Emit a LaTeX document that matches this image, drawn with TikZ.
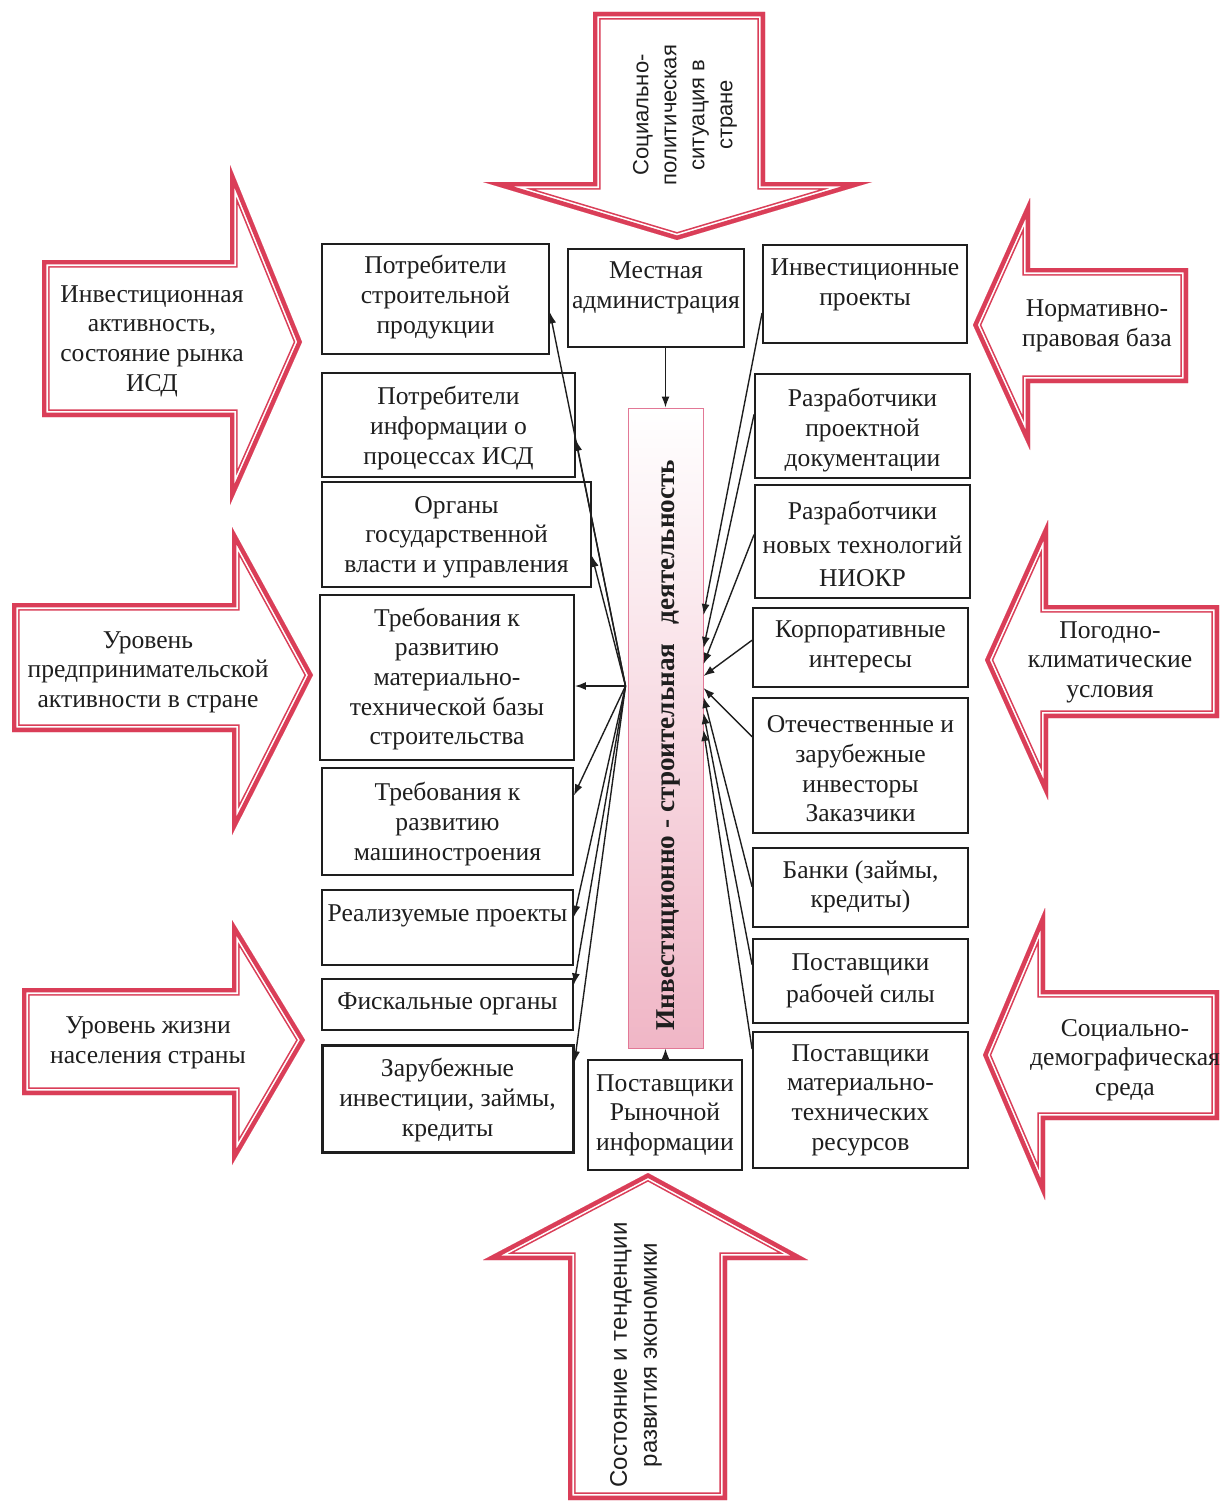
\documentclass[tikz,border=0pt]{standalone}
\usepackage{fontspec}
\setmainfont{Liberation Serif}
\newfontfamily\sansf{Liberation Sans}
\usetikzlibrary{arrows.meta,calc}
\definecolor{arrred}{RGB}{218,62,88}
\definecolor{barpink}{RGB}{240,182,198}
\definecolor{barline}{RGB}{226,120,150}
\definecolor{ink}{RGB}{30,30,30}

\newcommand\redarrow[1]{%
  \begin{scope}
    \clip #1;
    \fill[white] #1;
    \draw[arrred, line width=7.6pt, line join=miter] #1;
    \draw[white, line width=6.0pt, line join=miter] #1;
    \draw[arrred, line width=4.4pt, line join=miter] #1;
  \end{scope}}

\newcommand\mybox[8][]{%
  \node[box,#1, minimum width={(#5-#3)*0.5pt}, minimum height={(#6-#4)*0.5pt}] (#2) at ({(#3+#5)/2},{(#4+#6)/2}) {};
  \node[btxt] (#2-t) at ({(#3+#5)/2},#7) {#8};}

\tikzset{
  box/.style={draw=ink, line width=0.95pt, inner sep=0pt, fill=white},
  btxt/.style={align=center, font=\fontsize{12.8}{14.8}\selectfont, text=ink, inner sep=0pt},
  conn/.style={draw=ink, line width=0.7pt, -{Latex[length=5.5pt,width=4pt]}},
}

\begin{document}
\begin{tikzpicture}[x=0.5pt,y=-0.5pt]
\useasboundingbox (0,0) rectangle (1222,1504);

% ---------- red block arrows ----------
\redarrow{(593,12) -- (765,12) -- (765,182) -- (872,182) -- (677,240) -- (483,182) -- (593,182) -- cycle}
\redarrow{(42,260) -- (230,260) -- (230,165) -- (302,342) -- (230,505) -- (230,417) -- (42,417) -- cycle}
\redarrow{(12,603) -- (232,603) -- (232,527) -- (313,675) -- (232,835) -- (232,732) -- (12,732) -- cycle}
\redarrow{(22,988) -- (232,988) -- (232,920) -- (305,1040) -- (232,1165) -- (232,1095) -- (22,1095) -- cycle}
\redarrow{(1188,268) -- (1030,268) -- (1030,198) -- (973,325) -- (1030,450) -- (1030,383) -- (1188,383) -- cycle}
\redarrow{(1219,605) -- (1048,605) -- (1048,520) -- (985,660) -- (1048,800) -- (1048,718) -- (1219,718) -- cycle}
\redarrow{(1219,990) -- (1045,990) -- (1045,908) -- (983,1055) -- (1045,1200) -- (1045,1120) -- (1219,1120) -- cycle}
\redarrow{(568,1500) -- (568,1260) -- (483,1260) -- (648,1173) -- (808,1260) -- (727,1260) -- (727,1500) -- cycle}

\node[rotate=90, align=center, font=\sansf\fontsize{11}{14}\selectfont, text=ink] (t-top) at (685,115)
  {Социально-\\политическая\\ситуация в\\стране};
\node[rotate=90, align=center, font=\sansf\fontsize{12}{15}\selectfont, text=ink] (t-bot) at (636,1355)
  {Состояние и тенденции\\развития экономики};
\node[btxt] (t-l1) at (152,341) {Инвестиционная\\активность,\\состояние рынка\\ИСД};
\node[btxt] (t-l2) at (148,672) {Уровень\\предпринимательской\\активности в стране};
\node[btxt] (t-l3) at (148,1043) {Уровень жизни\\населения страны};
\node[btxt] (t-r1) at (1097,326) {Нормативно-\\правовая база};
\node[btxt] (t-r2) at (1110,662) {Погодно-\\климатические\\условия};
\node[btxt] (t-r3) at (1125,1060) {Социально-\\демографическая\\среда};

% ---------- left column ----------
\mybox{pcp}{322}{244}{549}{354}{297}{Потребители\\строительной\\продукции}
\mybox{pci}{322}{373}{575}{477}{428}{Потребители\\информации о\\процессах ИСД}
\mybox{org}{322}{482}{591}{587}{537}{Органы\\государственной\\власти и управления}
\mybox{tmb}{320}{595}{574}{760}{679}{Требования к\\развитию\\материально-\\технической базы\\строительства}
\mybox{tms}{322}{768}{573}{875}{824}{Требования к\\развитию\\машиностроения}
\mybox{real}{322}{890}{573}{965}{916}{Реализуемые проекты}
\mybox{fisc}{322}{979}{573}{1030}{1004}{Фискальные органы}
\mybox[line width=1.5pt]{zar}{322}{1045}{573}{1152}{1100}{Зарубежные\\инвестиции, займы,\\кредиты}

% ---------- centre ----------
\mybox{ma}{568}{249}{744}{347}{288}{Местная\\администрация}
\mybox{pri}{588}{1060}{742}{1170}{1115}{Поставщики\\Рыночной\\информации}
\node[draw=barline, line width=0.5pt, top color=white, bottom color=barpink,
      minimum width=37.5pt, minimum height=320pt, inner sep=0pt] (bar) at (665.5,728) {};
\node[rotate=90, font=\bfseries\fontsize{13.6}{15}\selectfont, text=ink] (bar-t) at (668,745)
  {Инвестиционно - строительная\hspace{0.7em}деятельность};

% ---------- right column ----------
\mybox{ip}{763}{245}{967}{343}{285}{Инвестиционные\\проекты}
\mybox{rpd}{755}{374}{970}{478}{430}{Разработчики\\проектной\\документации}
\mybox{rnt}{755}{485}{970}{598}{544}{Разработчики\\[2pt]новых технологий\\[2pt]НИОКР}
\mybox{korp}{753}{608}{968}{687}{647}{Корпоративные\\интересы}
\mybox{otech}{753}{698}{968}{833}{769}{Отечественные и\\зарубежные\\инвесторы\\Заказчики}
\mybox{bank}{753}{848}{968}{927}{887}{Банки (займы,\\кредиты)}
\mybox{rab}{753}{939}{968}{1023}{981}{Поставщики\\[1.5pt]рабочей силы}
\mybox{mtr}{753}{1032}{968}{1168}{1100}{Поставщики\\материально-\\технических\\ресурсов}

% ---------- connectors ----------
\draw[conn] (ma.south -| bar.north) -- (bar.north);
\draw[conn] (pri.north -| bar.south) -- (bar.south);

\coordinate (hub) at ([yshift=21pt,xshift=-1pt]bar.west);
\draw[conn] (hub) -- ($(pcp.north east)!0.62!(pcp.south east)$);
\draw[conn] (hub) -- ($(pci.north east)!0.64!(pci.south east)$);
\draw[conn] (hub) -- ($(org.north east)!0.70!(org.south east)$);
\draw[conn] (hub) -- (hub -| tmb.east);
\draw[conn] (hub) -- ($(tms.north east)!0.26!(tms.south east)$);
\draw[conn] (hub) -- ($(real.north east)!0.36!(real.south east)$);
\draw[conn] (hub) -- ($(fisc.north east)!0.12!(fisc.south east)$);
\draw[conn] (hub) -- ($(zar.north east)!0.17!(zar.south east)$);

\draw[conn] ($(ip.north west)!0.69!(ip.south west)$) -- ([yshift=56.5pt]bar.east);
\draw[conn] ($(rpd.north west)!0.39!(rpd.south west)$) -- ([yshift=40pt]bar.east);
\draw[conn] ($(rnt.north west)!0.44!(rnt.south west)$) -- ([yshift=32pt]bar.east);
\draw[conn] ($(korp.north west)!0.41!(korp.south west)$) -- ([yshift=26pt]bar.east);
\draw[conn] ($(otech.north west)!0.29!(otech.south west)$) -- ([yshift=20pt]bar.east);
\draw[conn] ($(bank.north west)!0.49!(bank.south west)$) -- ([yshift=15.5pt]bar.east);
\draw[conn] ($(rab.north west)!0.31!(rab.south west)$) -- ([yshift=7.5pt]bar.east);
\draw[conn] ($(mtr.north west)!0.13!(mtr.south west)$) -- ([yshift=-1pt]bar.east);
\end{tikzpicture}
\end{document}
